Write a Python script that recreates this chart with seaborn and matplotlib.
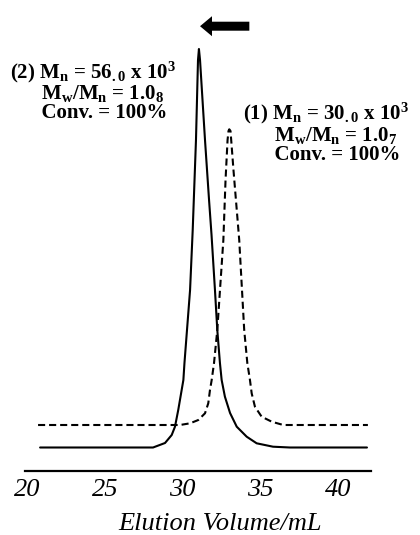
import matplotlib
matplotlib.use("Agg")
import matplotlib.pyplot as plt
import seaborn as sns
import pandas as pd
from matplotlib.patches import FancyArrow

# ---- data (elution volume / mL, detector response, arb.) ----
solid_x = [20.84, 24.69, 27.26, 28.10, 28.87, 29.30, 29.51, 29.72, 29.94, 30.05,
           30.12, 30.48, 30.65, 30.86, 30.99, 31.05, 31.12, 31.44, 31.70, 31.86,
           32.08, 32.23, 32.40, 32.51, 32.72, 33.05, 33.48, 34.12, 34.76, 35.81,
           36.90, 41.85]
solid_y = [23.5, 23.5, 23.5, 23.5, 28.0, 36.0, 44.3, 61.0, 81.0, 91.0,
           108.0, 181.0, 241.0, 331.0, 411.0, 422.0, 411.0, 331.0, 271.0, 236.0,
           181.0, 141.0, 108.0, 91.0, 74.3, 58.0, 44.3, 34.3, 27.7, 24.3,
           23.5, 23.5]

dash_x = [20.71, 27.90, 29.83, 30.48, 31.01, 31.44, 31.65, 31.76, 31.87, 32.02,
          32.23, 32.62, 32.76, 32.89, 32.95, 33.00, 33.08, 33.27, 33.64, 33.96,
          34.16, 34.33, 34.44, 34.65, 35.08, 35.73, 36.47, 41.91]
dash_y = [46.0, 46.0, 46.0, 47.7, 51.0, 57.7, 67.7, 81.0, 91.0, 108.0,
          141.0, 231.0, 291.0, 331.0, 340.0, 341.7, 340.0, 301.0, 231.0, 141.0,
          108.0, 91.0, 77.7, 64.3, 54.3, 49.3, 46.0, 46.0]

x_ticks = [20, 25, 30, 35, 40]
x_label = "Elution Volume/mL"

label_2 = [r"(2) M$_{\mathrm{n}}$ = 56$_{.0}$ x 10$^{3}$",
           r"M$_{\mathrm{w}}$/M$_{\mathrm{n}}$ = 1.0$_{8}$",
           r"Conv. = 100%"]
label_1 = [r"(1) M$_{\mathrm{n}}$ = 30$_{.0}$ x 10$^{3}$",
           r"M$_{\mathrm{w}}$/M$_{\mathrm{n}}$ = 1.0$_{7}$",
           r"Conv. = 100%"]

# ---- style ----
sns.set_style("white")
plt.rcParams["font.family"] = ["Liberation Serif", "DejaVu Serif"]
plt.rcParams["text.color"] = "black"
plt.rcParams["mathtext.fontset"] = "custom"
plt.rcParams["mathtext.rm"] = "Liberation Serif:bold"
plt.rcParams["mathtext.it"] = "Liberation Serif:bold"
plt.rcParams["mathtext.bf"] = "Liberation Serif:bold"

W, H = 420, 535
fig = plt.figure(figsize=(W / 100, H / 100), dpi=100)
fig.patch.set_facecolor("white")
ax = fig.add_axes([25 / W, 64 / H, 346 / W, 471 / H])
ax.set_facecolor("white")

df_solid = pd.DataFrame({"x": solid_x, "y": solid_y})
df_dash = pd.DataFrame({"x": dash_x, "y": dash_y})
lw = 1.5
sns.lineplot(data=df_solid, x="x", y="y", sort=False, color="black", lw=lw, ax=ax)
sns.lineplot(data=df_dash, x="x", y="y", sort=False, color="black", lw=lw, ax=ax,
             linestyle=(0, (3.4, 1.9)))

ax.set_xlim(19.87, 42.11)
ax.set_ylim(0, 471)
for s in ["left", "right", "top"]:
    ax.spines[s].set_visible(False)
ax.spines["bottom"].set_linewidth(1.6)
ax.spines["bottom"].set_color("black")
ax.set_yticks([])
ax.set_xticks(x_ticks)
ax.set_xticklabels([str(t) for t in x_ticks], fontsize=19, style="italic")
ax.tick_params(axis="x", direction="in", length=5.5, width=1.3, pad=6, colors="black")
ax.set_xlabel("")
ax.set_ylabel("")

# arrow indicating shift to higher molecular weight
ax.add_patch(FancyArrow(34.29, 444.8, 31.12 - 34.29, 0, width=9, head_width=20,
                        head_length=0.77, length_includes_head=True,
                        color="black", lw=0))

# x label
fig.text(220 / W, (H - 529.5) / H, x_label, fontsize=19, style="italic",
         ha="center", va="baseline", color="black")

# annotations (one text block each, continuation lines indented)
fs = 15
indent = " " * 6
def block(x, y_last, lines):
    s = "\n".join([lines[0]] + [indent + ln for ln in lines[1:]])
    fig.text(x / W, (H - y_last) / H, s, fontsize=fs, fontweight="bold",
             ha="left", va="baseline", linespacing=0.92, color="black")

block(10, 118.3, label_2)
block(242.7, 160, label_1)

fig.savefig("out.png", dpi=100)
